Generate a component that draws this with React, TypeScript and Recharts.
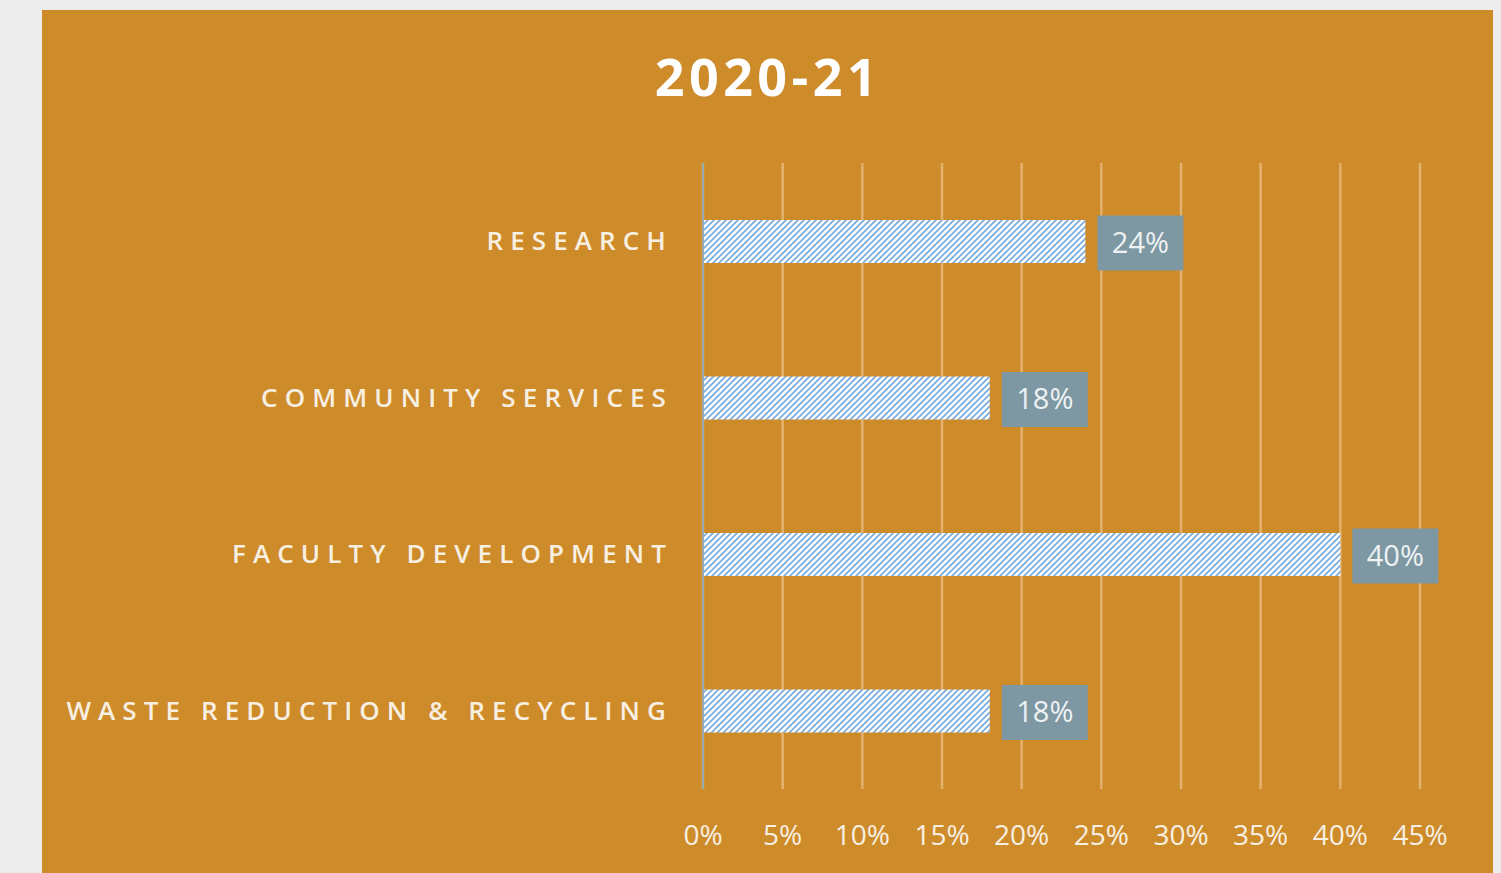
import { BarChart, Bar, XAxis, YAxis, CartesianGrid, LabelList } from 'recharts'

const categories = ['RESEARCH', 'COMMUNITY SERVICES', 'FACULTY DEVELOPMENT', 'WASTE REDUCTION & RECYCLING']
const shares = [24, 18, 40, 18]
const xTicks = [0, 5, 10, 15, 20, 25, 30, 35, 40, 45]

const data = categories.map((name, i) => ({ name, value: shares[i] }))

const PANEL = '#ce8b2a'
const TEXT = '#f7efe2'

function CategoryTick({ x, y, payload }: { x?: number; y?: number; payload?: { value: string } }) {
  return (
    <text
      x={(x ?? 0) - 22}
      y={y}
      dy={9}
      textAnchor="end"
      fill={TEXT}
      fontFamily="'Open Sans', sans-serif"
      fontSize={26}
      fontWeight={600}
      letterSpacing={7.1}
    >
      {payload?.value}
    </text>
  )
}

function PercentTick({ x, y, payload }: { x?: number; y?: number; payload?: { value: number } }) {
  return (
    <text
      x={x}
      y={(y ?? 0) + 38}
      dy={10}
      textAnchor="middle"
      fill={TEXT}
      fontFamily="'Open Sans', sans-serif"
      fontSize={28}
    >
      {payload?.value}%
    </text>
  )
}

function ValueBox(props: { x?: number; y?: number; width?: number; height?: number; value?: number }) {
  const x = Number(props.x ?? 0)
  const y = Number(props.y ?? 0)
  const w = Number(props.width ?? 0)
  const h = Number(props.height ?? 0)
  const bx = x + w + 12
  const cy = y + h / 2 + 1
  return (
    <g>
      <rect x={bx} y={cy - 27} width={86} height={55} fill="#7d97a3" />
      <text
        x={bx + 43}
        y={cy}
        dy={10}
        textAnchor="middle"
        fill="#eef2f3"
        fontFamily="'Open Sans', sans-serif"
        fontSize={29}
      >
        {props.value}%
      </text>
    </g>
  )
}

export default function App() {
  return (
    <div style={{ position: 'fixed', left: 0, top: 0, width: 1501, height: 873, background: '#ececec', overflow: 'hidden' }}>
      <div style={{ position: 'absolute', left: 42, top: 10, width: 1451, height: 880, background: PANEL }}>
        <svg width={1451} height={120} style={{ position: 'absolute', left: 0, top: 0 }}>
          <text
            x={726}
            y={86}
            textAnchor="middle"
            fill="#ffffff"
            fontFamily="'Open Sans', sans-serif"
            fontWeight={700}
            fontSize={52}
            letterSpacing={4.5}
          >
            2020-21
          </text>
        </svg>
        <div style={{ position: 'absolute', left: 0, top: 0 }}>
          <BarChart
            width={1451}
            height={863}
            data={data}
            layout="vertical"
            margin={{ top: 153, right: 73, left: 0, bottom: 24 }}
            barSize={43}
          >
            <defs>
              <pattern id="hatch" patternUnits="userSpaceOnUse" width={6} height={6}>
                <rect width={6} height={6} fill="#ffffff" />
                <path d="M-1,1 L1,-1 M0,6 L6,0 M5,7 L7,5" stroke="#74a9df" strokeWidth={1.6} />
              </pattern>
            </defs>
            <CartesianGrid horizontal={false} stroke="#e4b26c" strokeWidth={2.5} />
            <XAxis
              type="number"
              domain={[0, 45]}
              ticks={xTicks}
              tick={<PercentTick />}
              tickLine={false}
              axisLine={false}
              height={60}
              interval={0}
            />
            <YAxis
              type="category"
              dataKey="name"
              width={661}
              tick={<CategoryTick />}
              tickLine={false}
              axisLine={{ stroke: '#9aaab2', strokeWidth: 2 }}
              interval={0}
            />
            <Bar dataKey="value" fill="url(#hatch)" isAnimationActive={false}>
              <LabelList dataKey="value" content={<ValueBox />} />
            </Bar>
          </BarChart>
        </div>
      </div>
    </div>
  )
}
